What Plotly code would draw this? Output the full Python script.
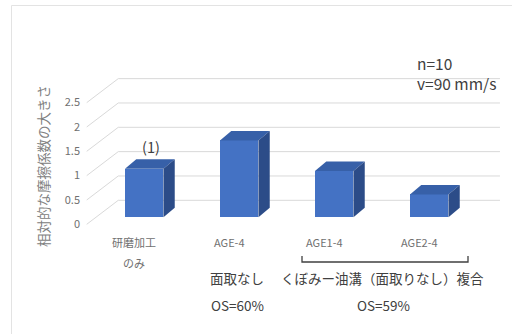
import plotly.graph_objects as go

# ---- data -------------------------------------------------------------
categories = [["研磨加工", "のみ"], ["AGE-4"], ["AGE1-4"], ["AGE2-4"]]
values = [1.0, 1.58, 0.95, 0.47]
y_ticks = [0, 0.5, 1, 1.5, 2, 2.5]
y_tick_text = ["0", "0.5", "1", "1.5", "2", "2.5"]
group_notes = [("面取なし", 237), ("くぼみー油溝（面取りなし）複合", 382)]
os_notes = [("OS=60%", 237), ("OS=59%", 383)]
cond_lines = ["n=10", "v=90 mm/s"]

# ---- canvas / projection settings -----------------------------------
W, H = 512, 334
PX_UNIT = 48.67      # pixels per 1.0 on the value axis
PX_CAT = 95.0        # pixels between category centres
BASE_PX = 217.3      # pixel row of the bar bases
FIRST_PX = 144.2     # pixel column of first bar centre

BAR_W = 0.405                  # bar width (category units)
DEPTH_X, DEPTH_Y = 0.119, 0.195  # bar depth offset (cat units, value units)
FRONT_OFF = -0.144             # floor front edge relative to bar base
BACK_OFF = 0.349               # back wall relative to bar base
WALL_FRONT_X, WALL_BACK_X, WALL_END_X = -0.605, -0.273, 3.745

FRONT = "#4472C4"
TOP = "#3760A8"
SIDE = "#2C4C88"
GRID = "#D9D9D9"
FONT = "Noto Sans CJK JP"


def px(x, y):
    """pixel position -> paper coordinates"""
    return x / W, 1 - y / H


def label(text, x, y, size, color, **kw):
    ax, ay = px(x, y)
    d = dict(text=text, x=ax, y=ay, xref="paper", yref="paper", showarrow=False,
             xanchor="center", yanchor="middle", font=dict(family=FONT, size=size, color=color))
    d.update(kw)
    return d


x_range = [-FIRST_PX / PX_CAT, (W - FIRST_PX) / PX_CAT]
y_range = [-(H - BASE_PX) / PX_UNIT, BASE_PX / PX_UNIT]

fig = go.Figure()

# front faces
xs = list(range(len(values)))
fig.add_trace(go.Bar(x=xs, y=values, width=BAR_W, marker=dict(color=FRONT, line=dict(width=0)),
                     hoverinfo="skip", showlegend=False))

# top and side faces
for i, v in enumerate(values):
    l, r = i - BAR_W / 2, i + BAR_W / 2
    fig.add_trace(go.Scatter(x=[l, r, r + DEPTH_X, l + DEPTH_X, l],
                             y=[v, v, v + DEPTH_Y, v + DEPTH_Y, v],
                             fill="toself", fillcolor=TOP, mode="lines",
                             line=dict(width=0, color=TOP), hoverinfo="skip", showlegend=False))
    fig.add_trace(go.Scatter(x=[r, r + DEPTH_X, r + DEPTH_X, r, r],
                             y=[0, DEPTH_Y, v + DEPTH_Y, v, 0],
                             fill="toself", fillcolor=SIDE, mode="lines",
                             line=dict(width=0, color=SIDE), hoverinfo="skip", showlegend=False))

shapes = []
# back wall gridlines and side wall diagonals
for t in y_ticks:
    shapes.append(dict(type="line", xref="x", yref="y", layer="below",
                       x0=WALL_BACK_X, x1=WALL_END_X, y0=t + BACK_OFF, y1=t + BACK_OFF,
                       line=dict(color=GRID, width=1)))
    shapes.append(dict(type="line", xref="x", yref="y", layer="below",
                       x0=WALL_FRONT_X, x1=WALL_BACK_X, y0=t + FRONT_OFF, y1=t + BACK_OFF,
                       line=dict(color=GRID, width=1)))

# white text box for the test conditions
bx0, by0 = px(400, 45)
bx1, by1 = px(508, 95)
shapes.append(dict(type="rect", xref="paper", yref="paper", layer="below",
                   x0=bx0, x1=bx1, y0=by1, y1=by0, fillcolor="white", line=dict(width=0)))

# chart-area border
fx0, fy0 = px(11.5, 5.5)
shapes.append(dict(type="rect", xref="paper", yref="paper", layer="below",
                   x0=fx0, x1=1.05, y0=-0.05, y1=fy0, line=dict(color="#E3E3E3", width=1)))

# bracket over the composite group
lx0, ly = px(302, 262)
lx1, lt = px(468, 256)
shapes.append(dict(type="path", xref="paper", yref="paper",
                   path=f"M{lx0},{lt} L{lx0},{ly} L{lx1},{ly} L{lx1},{lt}",
                   line=dict(color="#404040", width=1.3)))

annotations = []
# category labels
for i, lines in enumerate(categories):
    for k, line in enumerate(lines):
        annotations.append(label(line, FIRST_PX + PX_CAT * i - 10, 242 + 21 * k, 11, "#707070"))

# value axis title
annotations.append(label("相対的な摩擦係数の大きさ", 43, 166, 13.5, "#808080", textangle=-90))

# reference mark on the first bar
annotations.append(dict(text="(1)", x=0.07, y=values[0] + 0.45, xref="x", yref="y",
                        xanchor="center", yanchor="middle", showarrow=False,
                        font=dict(family=FONT, size=14.5, color="#404040")))

# group notes
for text, cx in group_notes:
    annotations.append(label(text, cx, 278, 13.5, "#404040"))
for text, cx in os_notes:
    annotations.append(label(text, cx, 305, 13.5, "#404040"))

# test conditions
annotations.append(label("<br>".join(cond_lines), 415, 72.5, 15.5, "#404040",
                         xanchor="left", align="left"))

fig.update_layout(
    width=W, height=H, margin=dict(l=0, r=0, t=0, b=0),
    paper_bgcolor="white", plot_bgcolor="rgba(0,0,0,0)",
    shapes=shapes, annotations=annotations, bargap=0,
    xaxis=dict(range=x_range, domain=[0, 1], visible=False, fixedrange=True),
    yaxis=dict(range=y_range, domain=[0, 1], anchor="free", position=80 / W,
               tickvals=[t + FRONT_OFF for t in y_ticks], ticktext=y_tick_text,
               showgrid=False, zeroline=False, showline=False, ticks="",
               tickfont=dict(family=FONT, size=11, color="#707070"), fixedrange=True),
)

fig.write_html("out.html")
